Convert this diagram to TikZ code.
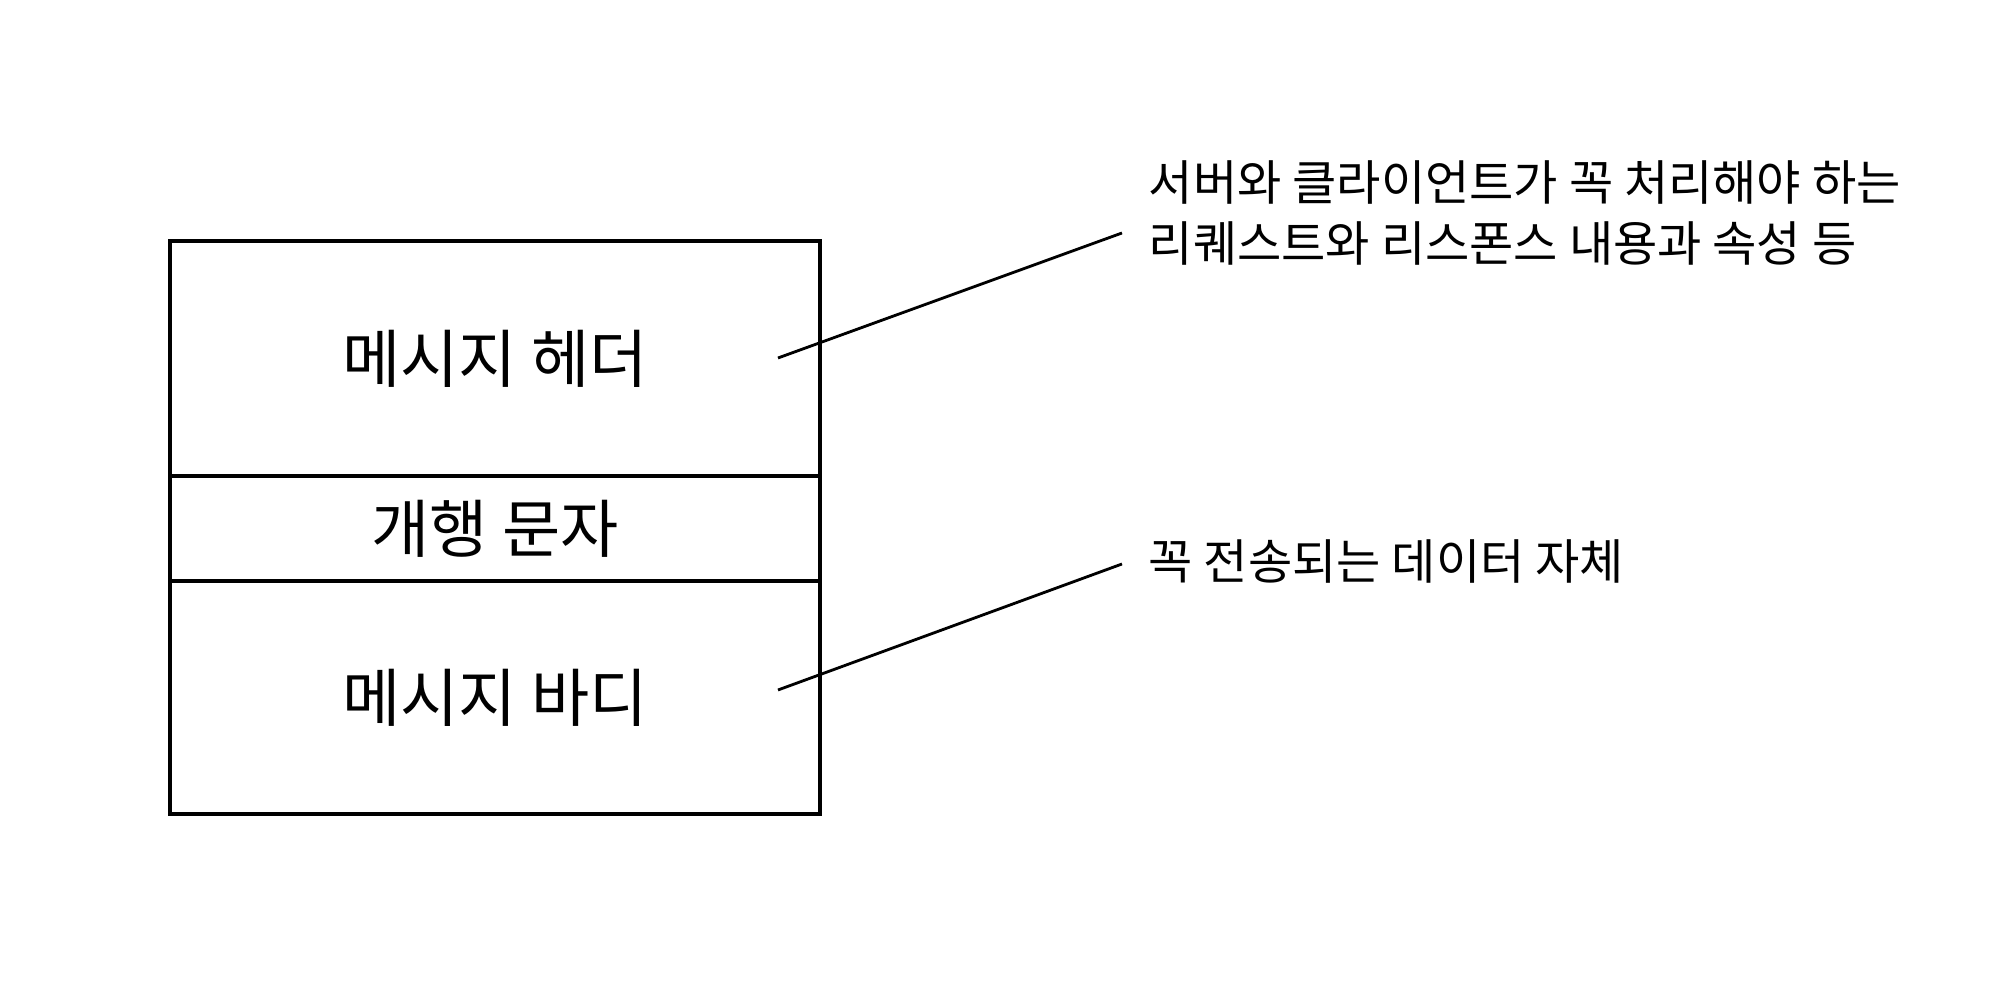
\documentclass[tikz,border=0pt]{standalone}
\usepackage{fontspec}
\newfontfamily\kr{Noto Sans CJK KR}
\usetikzlibrary{positioning}

\begin{document}
\begin{tikzpicture}[node distance={0mm}, line width=1pt, font=\kr,
  part/.style = {draw, rectangle, outer sep=0pt, minimum width=6.5cm, font=\kr\fontsize{18}{22}\selectfont},
  note/.style = {anchor=west, inner sep=0pt, align=left, font=\kr\fontsize{13.7}{17.3}\selectfont}]
\useasboundingbox (0,0) rectangle (20,9.82);
\node[part, minimum height=2.35cm] (head) at (4.95,6.235) {메시지 헤더};
\node[part, minimum height=1.05cm] (crlf) [below=of head] {개행 문자};
\node[part, minimum height=2.33cm] (body) [below=of crlf] {메시지 바디};
\node[note] (n1) at (11.47,7.69) {서버와 클라이언트가 꼭 처리해야 하는\\리퀘스트와 리스폰스 내용과 속성 등};
\node[note] (n2) at (11.47,4.20) {꼭 전송되는 데이터 자체};
\coordinate (h1) at (7.78,6.24);
\coordinate (h2) at (11.22,7.49);
\coordinate (b1) at (7.78,2.92);
\coordinate (b2) at (11.22,4.18);
\draw[line width=0.8pt] (h1) -- (h2);
\draw[line width=0.8pt] (b1) -- (b2);
\end{tikzpicture}
\end{document}
